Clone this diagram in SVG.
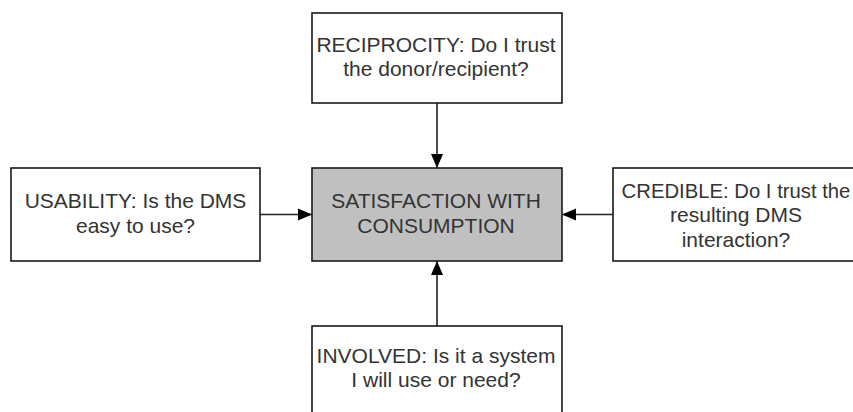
<svg xmlns="http://www.w3.org/2000/svg" width="853" height="412" viewBox="0 0 853 412">
<style>
.box{fill:#fff;stroke:#1a1a1a;stroke-width:1.6}
.core{fill:#c0c0c0;stroke:#1a1a1a;stroke-width:1.6}
.t{font-family:"Liberation Sans",Arial,sans-serif;font-size:21px;fill:#333;text-anchor:middle}
.s{font-size:20.3px}
.c{stroke:#222;stroke-width:1.6;fill:none;marker-end:url(#ah)}
</style>
<defs>
<marker id="ah" markerUnits="userSpaceOnUse" markerWidth="16" markerHeight="14" refX="14" refY="7" orient="auto">
<path d="M0,1 L14,7 L0,13 Z" fill="#000"/>
</marker>
</defs>
<rect width="853" height="412" fill="#fff"/>
<g id="connectors">
<line class="c" x1="437" y1="103" x2="437" y2="168"/>
<line class="c" x1="260" y1="214.5" x2="312" y2="214.5"/>
<line class="c" x1="613" y1="214.5" x2="562" y2="214.5"/>
<line class="c" x1="437" y1="326" x2="437" y2="261"/>
</g>
<g id="reciprocity">
<rect class="box" x="312" y="13" width="250" height="90"/>
<text class="t" x="436" y="51.5">RECIPROCITY: Do I trust</text>
<text class="t" x="436" y="75.5">the donor/recipient?</text>
</g>
<g id="satisfaction">
<rect class="core" x="312" y="168" width="250" height="93"/>
<text class="t" x="436" y="207.5">SATISFACTION WITH</text>
<text class="t" x="436" y="232.5">CONSUMPTION</text>
</g>
<g id="usability">
<rect class="box" x="11" y="168" width="249" height="93"/>
<text class="t" x="135.5" y="207.5">USABILITY: Is the DMS</text>
<text class="t" x="135.5" y="232.5">easy to use?</text>
</g>
<g id="credible">
<rect class="box" x="613" y="168" width="249" height="93"/>
<text class="t s" x="736" y="197.5">CREDIBLE: Do I trust the</text>
<text class="t" x="736" y="221.5">resulting DMS</text>
<text class="t" x="736" y="246.5">interaction?</text>
</g>
<g id="involved">
<rect class="box" x="312" y="326" width="250" height="100"/>
<text class="t" x="436" y="363">INVOLVED: Is it a system</text>
<text class="t" x="436" y="387">I will use or need?</text>
</g>
</svg>
